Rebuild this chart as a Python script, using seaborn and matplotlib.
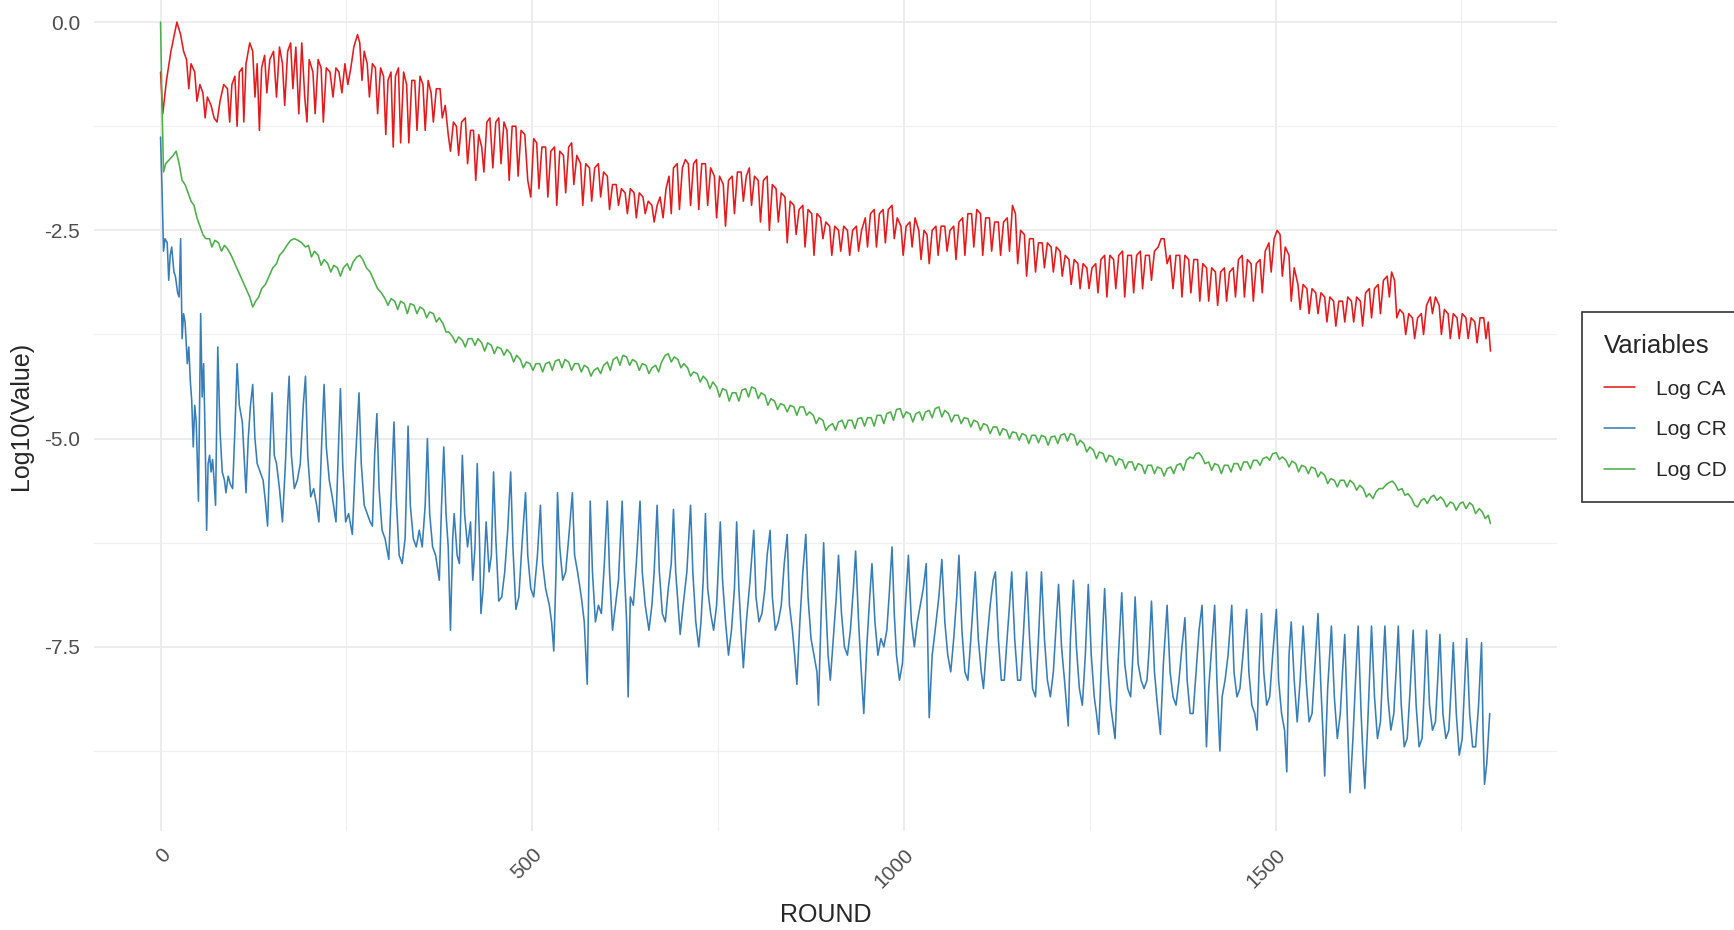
import numpy as np
import pandas as pd
import matplotlib
matplotlib.use("Agg")
import matplotlib.pyplot as plt
import seaborn as sns
from matplotlib.ticker import MultipleLocator

# ---------------- data ----------------
ca_pts = [
 (0,-0.6),(3,-1.1),(8,-0.7),(14,-0.35),(22,0.0),(27,-0.15),(31,-0.35),(35,-0.45),(38,-0.8),(41,-0.5),
 (46,-0.6),(49,-0.95),(53,-0.75),(57,-0.85),(60,-1.15),(63,-0.9),(68,-1.0),(72,-1.15),(76,-1.2),(80,-0.95),
 (85,-0.75),(90,-0.8),(93,-1.2),(96,-0.75),(100,-0.65),(103,-1.25),(106,-0.6),(110,-0.55),(112,-1.2),(115,-0.5),
 (120,-0.25),(124,-0.35),(127,-0.9),(130,-0.5),(133,-1.3),(136,-0.55),(140,-0.4),(143,-0.85),(147,-0.45),(152,-0.35),
 (156,-0.9),(160,-0.3),(164,-0.5),(167,-1.0),(171,-0.35),(175,-0.25),(178,-0.8),(182,-0.3),(186,-1.1),(190,-0.25),
 (194,-0.9),(197,-1.2),(200,-0.45),(205,-0.6),(208,-1.1),(212,-0.45),(216,-0.55),(219,-1.2),(223,-0.55),(228,-0.6),
 (232,-0.9),(236,-0.55),(240,-0.6),(244,-0.85),(248,-0.5),(252,-0.75),(256,-0.55),(260,-0.3),(265,-0.15),(268,-0.25),
 (271,-0.7),(274,-0.35),(278,-0.5),(281,-0.9),(285,-0.5),(289,-0.55),(292,-1.1),(296,-0.55),(300,-0.65),(303,-1.35),
 (306,-0.7),(310,-0.6),(313,-1.5),(316,-0.65),(320,-0.55),(323,-1.45),(327,-0.6),(331,-0.75),(334,-1.45),(338,-0.7),
 (342,-0.7),(345,-1.3),(349,-0.65),(353,-0.75),(356,-1.3),(360,-0.7),(364,-0.85),(367,-1.2),(371,-0.8),(376,-0.8),
 (379,-1.15),(383,-1.0),(387,-1.35),(390,-1.55),(394,-1.2),(398,-1.25),(401,-1.6),(405,-1.2),(410,-1.15),(413,-1.7),
 (417,-1.3),(421,-1.3),(424,-1.9),(428,-1.35),(432,-1.5),(435,-1.8),(439,-1.2),(443,-1.15),(447,-1.75),(451,-1.2),
 (455,-1.15),(458,-1.7),(462,-1.2),(466,-1.3),(469,-1.9),(473,-1.25),(478,-1.25),(481,-1.85),(485,-1.3),(490,-1.35),
 (494,-1.9),(498,-2.1),(502,-1.4),(506,-1.45),(509,-2.0),(513,-1.5),(518,-1.5),(521,-2.1),(525,-1.55),(530,-1.5),
 (533,-2.2),(537,-1.55),(542,-1.6),(545,-2.05),(549,-1.5),(553,-1.45),(556,-1.95),(560,-1.6),(565,-1.7),(568,-2.2),
 (572,-1.7),(577,-1.75),(580,-2.15),(584,-1.75),(589,-1.7),(592,-2.1),(596,-1.8),(601,-1.85),(604,-2.25),(608,-1.95),
 (613,-1.95),(616,-2.2),(620,-2.0),(625,-2.05),(628,-2.3),(632,-2.0),(637,-2.05),(640,-2.35),(644,-2.05),(649,-2.1),
 (652,-2.3),(656,-2.15),(661,-2.2),(664,-2.4),(668,-2.2),(672,-2.1),(676,-2.35),(680,-2.0),(684,-1.85),(687,-2.3),
 (690,-1.75),(695,-1.7),(698,-2.25),(702,-1.75),(706,-1.65),(710,-1.7),(713,-2.2),(717,-1.7),(721,-1.65),(724,-2.25),
 (728,-1.7),(733,-1.7),(736,-2.2),(740,-1.75),(745,-1.85),(748,-2.35),(752,-1.85),(757,-1.95),(760,-2.45),(764,-1.9),
 (769,-1.85),(772,-2.3),(776,-1.8),(781,-1.8),(784,-2.15),(788,-1.85),(792,-1.75),(795,-2.2),(799,-1.85),(804,-1.9),
 (807,-2.4),(811,-1.9),(816,-1.85),(819,-2.5),(823,-1.95),(828,-2.0),(831,-2.4),(835,-2.05),(840,-2.1),(843,-2.65),
 (847,-2.15),(852,-2.2),(855,-2.55),(859,-2.25),(864,-2.2),(867,-2.7),(871,-2.25),(876,-2.3),(879,-2.8),(883,-2.3),
 (888,-2.35),(891,-2.6),(895,-2.4),(900,-2.45),(903,-2.8),(907,-2.45),(912,-2.5),(915,-2.75),(919,-2.45),(924,-2.5),
 (927,-2.8),(931,-2.5),(936,-2.45),(939,-2.75),(943,-2.5),(948,-2.35),(951,-2.7),(955,-2.3),(960,-2.25),(963,-2.7),
 (967,-2.3),(972,-2.25),(975,-2.65),(979,-2.25),(984,-2.2),(987,-2.6),(991,-2.35),(996,-2.45),(999,-2.8),(1003,-2.45),
 (1008,-2.4),(1011,-2.7),(1015,-2.35),(1020,-2.5),(1023,-2.85),(1027,-2.5),(1031,-2.55),(1034,-2.9),(1038,-2.5),(1043,-2.45),
 (1046,-2.8),(1050,-2.45),(1055,-2.45),(1058,-2.75),(1062,-2.5),(1067,-2.45),(1070,-2.85),(1074,-2.4),(1079,-2.35),(1082,-2.8),
 (1086,-2.3),(1091,-2.3),(1094,-2.7),(1098,-2.25),(1103,-2.3),(1106,-2.8),(1110,-2.35),(1115,-2.35),(1118,-2.75),(1122,-2.4),
 (1127,-2.4),(1130,-2.8),(1134,-2.4),(1139,-2.35),(1142,-2.75),(1146,-2.2),(1150,-2.3),(1153,-2.9),(1157,-2.5),(1162,-2.55),
 (1165,-3.05),(1169,-2.6),(1174,-2.6),(1177,-3.0),(1181,-2.65),(1186,-2.65),(1189,-2.95),(1193,-2.65),(1198,-2.7),(1201,-3.0),
 (1205,-2.7),(1210,-2.75),(1213,-3.05),(1217,-2.8),(1222,-2.85),(1225,-3.15),(1229,-2.85),(1234,-2.9),(1237,-3.2),(1241,-2.9),
 (1246,-2.95),(1249,-3.2),(1253,-2.95),(1258,-2.9),(1261,-3.25),(1265,-2.85),(1270,-2.8),(1273,-3.3),(1277,-2.8),(1282,-2.85),
 (1285,-3.2),(1289,-2.8),(1294,-2.75),(1297,-3.3),(1301,-2.8),(1306,-2.8),(1309,-3.25),(1313,-2.8),(1318,-2.75),(1321,-3.2),
 (1325,-2.8),(1330,-2.8),(1333,-3.1),(1337,-2.75),(1342,-2.7),(1346,-2.6),(1350,-2.6),(1354,-2.9),(1358,-2.8),(1362,-3.2),
 (1366,-2.8),(1371,-2.8),(1374,-3.3),(1378,-2.8),(1383,-2.85),(1386,-3.25),(1390,-2.85),(1395,-2.85),(1398,-3.35),(1402,-2.9),
 (1407,-2.95),(1410,-3.35),(1414,-2.95),(1419,-3.0),(1422,-3.4),(1426,-3.0),(1431,-2.95),(1434,-3.35),(1438,-3.0),(1443,-2.95),
 (1446,-3.3),(1450,-2.85),(1455,-2.8),(1458,-3.3),(1462,-2.85),(1467,-2.9),(1470,-3.35),(1474,-2.9),(1479,-2.85),(1482,-3.25),
 (1486,-2.75),(1491,-2.65),(1494,-3.0),(1498,-2.6),(1502,-2.5),(1506,-2.55),(1509,-3.05),(1513,-2.7),(1518,-2.8),(1521,-3.35),
 (1525,-2.95),(1530,-3.15),(1533,-3.45),(1537,-3.15),(1542,-3.2),(1545,-3.5),(1549,-3.2),(1554,-3.25),(1557,-3.5),(1561,-3.25),
 (1566,-3.3),(1569,-3.6),(1573,-3.3),(1578,-3.35),(1581,-3.65),(1585,-3.35),(1590,-3.35),(1593,-3.6),(1597,-3.3),(1602,-3.35),
 (1605,-3.6),(1609,-3.3),(1614,-3.35),(1617,-3.65),(1621,-3.25),(1626,-3.2),(1629,-3.55),(1633,-3.2),(1638,-3.15),(1641,-3.5),
 (1645,-3.1),(1650,-3.05),(1653,-3.3),(1656,-3.0),(1660,-3.1),(1663,-3.55),(1667,-3.45),(1672,-3.5),(1675,-3.75),(1679,-3.5),
 (1684,-3.55),(1687,-3.8),(1691,-3.55),(1696,-3.5),(1699,-3.75),(1703,-3.4),(1708,-3.3),(1711,-3.5),(1715,-3.3),(1720,-3.4),
 (1723,-3.75),(1727,-3.45),(1732,-3.5),(1735,-3.8),(1739,-3.5),(1744,-3.55),(1747,-3.8),(1751,-3.5),(1756,-3.55),(1759,-3.8),
 (1763,-3.55),(1768,-3.6),(1771,-3.85),(1775,-3.55),(1780,-3.55),(1783,-3.8),(1786,-3.6),(1789,-3.95),
]

cd_pts = [
 (0,0.0),(2,-1.0),(4,-1.8),(7,-1.7),(12,-1.65),(17,-1.6),(21,-1.55),(25,-1.7),(29,-1.9),(33,-1.95),
 (37,-2.05),(41,-2.15),(45,-2.2),(49,-2.35),(53,-2.45),(57,-2.55),(61,-2.6),(66,-2.6),(69,-2.7),(73,-2.62),
 (78,-2.65),(82,-2.75),(86,-2.68),(90,-2.72),(95,-2.8),(100,-2.9),(105,-3.0),(110,-3.1),(115,-3.2),(120,-3.3),
 (124,-3.42),(128,-3.35),(132,-3.3),(136,-3.2),(141,-3.15),(146,-3.05),(151,-2.95),(156,-2.9),(160,-2.8),(165,-2.75),
 (170,-2.68),(175,-2.62),(180,-2.6),(185,-2.62),(190,-2.65),(195,-2.7),(199,-2.68),(203,-2.82),(207,-2.75),(212,-2.8),
 (216,-2.92),(220,-2.85),(225,-2.9),(229,-3.0),(233,-2.92),(238,-2.95),(242,-3.05),(246,-2.95),(251,-2.9),(255,-2.98),
 (259,-2.88),(264,-2.82),(268,-2.8),(272,-2.85),(277,-2.95),(282,-3.0),(287,-3.1),(292,-3.2),(297,-3.25),(302,-3.32),
 (306,-3.4),(310,-3.32),(315,-3.35),(319,-3.45),(323,-3.35),(328,-3.38),(332,-3.5),(336,-3.38),(341,-3.4),(345,-3.5),
 (349,-3.42),(354,-3.45),(358,-3.55),(362,-3.48),(367,-3.5),(371,-3.6),(375,-3.55),(380,-3.62),(384,-3.72),(388,-3.72),
 (393,-3.78),(397,-3.85),(401,-3.78),(406,-3.82),(410,-3.9),(414,-3.8),(419,-3.8),(423,-3.88),(427,-3.8),(432,-3.85),
 (436,-3.95),(440,-3.85),(445,-3.88),(449,-3.98),(453,-3.9),(458,-3.92),(462,-4.0),(466,-3.93),(471,-3.98),(475,-4.08),
 (479,-4.0),(484,-4.05),(488,-4.15),(492,-4.08),(497,-4.1),(501,-4.18),(505,-4.1),(510,-4.1),(514,-4.2),(518,-4.1),
 (523,-4.08),(527,-4.18),(531,-4.07),(536,-4.05),(540,-4.15),(544,-4.05),(549,-4.08),(553,-4.18),(557,-4.1),(562,-4.1),
 (566,-4.2),(570,-4.12),(575,-4.15),(579,-4.25),(583,-4.18),(588,-4.15),(592,-4.22),(596,-4.12),(601,-4.08),(605,-4.18),
 (609,-4.05),(614,-4.02),(618,-4.12),(622,-4.0),(627,-4.02),(631,-4.12),(635,-4.05),(640,-4.08),(644,-4.18),(648,-4.1),
 (653,-4.12),(657,-4.22),(661,-4.15),(666,-4.12),(670,-4.2),(674,-4.08),(679,-4.0),(683,-3.98),(687,-4.08),(691,-4.02),
 (696,-4.05),(700,-4.15),(704,-4.1),(709,-4.15),(713,-4.25),(717,-4.2),(722,-4.22),(726,-4.32),(730,-4.25),(735,-4.3),
 (739,-4.4),(743,-4.32),(748,-4.38),(752,-4.5),(756,-4.4),(761,-4.42),(765,-4.55),(769,-4.45),(774,-4.45),(778,-4.55),
 (782,-4.42),(787,-4.4),(791,-4.5),(795,-4.38),(800,-4.4),(804,-4.52),(808,-4.45),(813,-4.48),(817,-4.6),(821,-4.52),
 (826,-4.55),(830,-4.65),(834,-4.58),(839,-4.6),(843,-4.68),(847,-4.6),(852,-4.62),(856,-4.72),(860,-4.62),(865,-4.62),
 (869,-4.72),(873,-4.68),(878,-4.72),(882,-4.82),(886,-4.75),(891,-4.78),(895,-4.9),(899,-4.85),(904,-4.82),(908,-4.9),
 (912,-4.8),(917,-4.78),(921,-4.88),(925,-4.78),(930,-4.78),(934,-4.88),(938,-4.76),(943,-4.75),(947,-4.85),(951,-4.75),
 (956,-4.75),(960,-4.85),(964,-4.72),(969,-4.72),(973,-4.82),(977,-4.7),(982,-4.68),(986,-4.78),(990,-4.65),(995,-4.64),
 (999,-4.75),(1003,-4.68),(1008,-4.7),(1012,-4.8),(1016,-4.7),(1021,-4.68),(1025,-4.78),(1029,-4.68),(1034,-4.66),(1038,-4.75),
 (1042,-4.64),(1047,-4.62),(1051,-4.74),(1055,-4.66),(1060,-4.7),(1064,-4.8),(1068,-4.72),(1073,-4.72),(1077,-4.82),(1081,-4.75),
 (1086,-4.76),(1090,-4.86),(1094,-4.78),(1099,-4.8),(1103,-4.9),(1107,-4.82),(1112,-4.84),(1116,-4.94),(1120,-4.86),(1125,-4.86),
 (1129,-4.96),(1133,-4.88),(1138,-4.9),(1142,-5.0),(1146,-4.92),(1151,-4.93),(1155,-5.02),(1159,-4.94),(1164,-4.96),(1168,-5.06),
 (1172,-4.96),(1177,-4.96),(1181,-5.05),(1185,-4.96),(1190,-4.98),(1194,-5.08),(1198,-4.98),(1203,-4.97),(1207,-5.06),(1211,-4.96),
 (1216,-4.94),(1220,-5.03),(1224,-4.94),(1229,-4.96),(1233,-5.08),(1237,-5.02),(1242,-5.06),(1246,-5.16),(1250,-5.1),(1255,-5.14),
 (1259,-5.24),(1263,-5.16),(1268,-5.18),(1272,-5.28),(1276,-5.2),(1281,-5.22),(1285,-5.32),(1289,-5.24),(1294,-5.26),(1298,-5.36),
 (1302,-5.28),(1307,-5.28),(1311,-5.38),(1315,-5.3),(1320,-5.32),(1324,-5.42),(1328,-5.32),(1333,-5.32),(1337,-5.42),(1341,-5.34),
 (1346,-5.36),(1350,-5.45),(1354,-5.36),(1359,-5.34),(1363,-5.42),(1367,-5.32),(1372,-5.3),(1376,-5.38),(1380,-5.26),(1385,-5.22),
 (1389,-5.24),(1393,-5.18),(1397,-5.17),(1401,-5.22),(1405,-5.3),(1410,-5.28),(1414,-5.38),(1418,-5.3),(1423,-5.32),(1427,-5.42),
 (1431,-5.32),(1436,-5.32),(1440,-5.4),(1444,-5.3),(1449,-5.3),(1453,-5.38),(1457,-5.28),(1462,-5.28),(1466,-5.36),(1470,-5.26),
 (1475,-5.26),(1479,-5.32),(1483,-5.24),(1488,-5.22),(1492,-5.26),(1496,-5.18),(1501,-5.17),(1505,-5.25),(1509,-5.22),(1514,-5.26),
 (1518,-5.34),(1522,-5.27),(1527,-5.3),(1531,-5.4),(1535,-5.32),(1540,-5.34),(1544,-5.42),(1548,-5.34),(1553,-5.36),(1557,-5.46),
 (1561,-5.4),(1566,-5.44),(1570,-5.54),(1574,-5.48),(1579,-5.5),(1583,-5.58),(1587,-5.5),(1592,-5.5),(1596,-5.58),(1600,-5.5),
 (1605,-5.54),(1609,-5.62),(1613,-5.56),(1618,-5.6),(1622,-5.7),(1626,-5.66),(1631,-5.72),(1635,-5.64),(1639,-5.6),(1644,-5.6),
 (1648,-5.56),(1652,-5.53),(1657,-5.51),(1661,-5.55),(1665,-5.62),(1670,-5.6),(1674,-5.68),(1678,-5.66),(1683,-5.72),(1687,-5.8),
 (1691,-5.82),(1696,-5.74),(1700,-5.72),(1704,-5.78),(1709,-5.7),(1713,-5.68),(1717,-5.74),(1722,-5.7),(1726,-5.74),(1730,-5.82),
 (1735,-5.76),(1739,-5.78),(1743,-5.86),(1748,-5.78),(1752,-5.76),(1756,-5.84),(1761,-5.77),(1765,-5.8),(1769,-5.9),(1774,-5.84),
 (1778,-5.88),(1782,-5.96),(1786,-5.92),(1789,-6.02),
]

cr_pts = [
 (0,-1.38),(2,-2.0),(4,-2.75),(6,-2.6),(9,-2.65),(11,-3.1),(13,-2.8),(15,-2.7),(18,-3.0),(20,-3.05),
 (23,-3.25),(25,-3.3),(27,-2.6),(29,-3.8),(31,-3.5),(33,-3.6),(36,-4.1),(38,-3.9),(40,-4.3),(42,-4.55),
 (44,-5.1),(46,-4.6),(48,-4.8),(51,-5.75),(54,-3.5),(56,-4.5),(58,-4.1),(60,-5.0),(62,-6.1),(64,-5.3),
 (66,-5.2),(68,-5.4),(70,-5.25),(72,-5.5),(74,-5.8),(77,-3.9),(80,-4.9),(83,-5.4),(86,-5.5),(88,-5.65),
 (91,-5.45),(94,-5.55),(97,-5.6),(100,-4.9),(103,-4.1),(106,-4.6),(110,-4.8),(113,-5.3),(115,-5.65),(118,-5.0),
 (121,-4.6),(124,-4.35),(127,-5.0),(130,-5.3),(134,-5.4),(138,-5.5),(141,-5.75),(144,-6.05),(147,-5.2),(150,-4.45),
 (153,-5.2),(156,-5.3),(160,-5.6),(164,-6.0),(168,-5.3),(171,-4.6),(173,-4.25),(176,-5.2),(180,-5.6),(184,-5.5),
 (188,-5.3),(192,-4.6),(195,-4.25),(198,-5.2),(202,-5.7),(206,-5.6),(210,-5.8),(213,-6.0),(217,-5.0),(220,-4.35),
 (223,-5.1),(227,-5.5),(231,-5.7),(236,-6.0),(239,-5.2),(242,-4.4),(245,-5.3),(249,-6.0),(253,-5.9),(258,-6.15),
 (262,-5.3),(267,-4.45),(270,-5.3),(274,-5.8),(278,-5.9),(282,-6.0),(285,-6.05),(288,-5.2),(291,-4.7),(294,-5.6),
 (298,-6.1),(302,-6.2),(307,-6.45),(311,-5.5),(314,-4.8),(317,-5.7),(321,-6.4),(325,-6.5),(329,-6.2),(333,-4.85),
 (336,-5.8),(340,-6.2),(344,-6.3),(348,-6.1),(352,-6.3),(356,-5.8),(359,-5.0),(362,-5.9),(366,-6.3),(370,-6.4),
 (375,-6.7),(378,-5.8),(381,-5.1),(384,-5.9),(387,-6.3),(390,-7.3),(393,-6.2),(395,-5.9),(399,-6.4),(402,-6.5),
 (406,-5.2),(409,-5.9),(413,-6.3),(417,-6.0),(420,-6.7),(423,-6.3),(426,-5.3),(429,-6.2),(431,-7.1),(434,-6.8),
 (438,-6.0),(442,-6.6),(445,-6.4),(448,-5.4),(451,-6.2),(455,-6.95),(459,-6.9),(463,-6.6),(467,-6.1),(471,-5.4),
 (474,-6.3),(478,-7.05),(482,-6.9),(486,-6.3),(491,-5.65),(494,-6.4),(498,-6.8),(502,-6.9),(507,-6.4),(511,-5.8),
 (514,-6.5),(518,-6.8),(523,-7.0),(526,-7.2),(529,-7.55),(532,-6.6),(534,-5.65),(537,-6.3),(541,-6.7),(545,-6.6),
 (549,-6.2),(554,-5.65),(557,-6.4),(561,-6.6),(566,-6.9),(570,-7.2),(574,-7.95),(576,-6.8),(578,-5.75),(581,-6.6),
 (585,-7.2),(589,-7.0),(593,-7.1),(597,-6.5),(601,-5.75),(604,-6.6),(608,-7.3),(612,-7.0),(616,-6.7),(621,-5.75),
 (624,-6.6),(627,-7.2),(629,-8.1),(632,-6.9),(636,-7.0),(640,-6.5),(645,-5.75),(648,-6.6),(652,-7.0),(657,-7.3),
 (661,-7.0),(664,-6.6),(668,-5.8),(671,-6.6),(675,-7.1),(679,-7.2),(683,-6.8),(687,-6.5),(690,-5.85),(693,-6.6),
 (697,-7.1),(699,-7.35),(703,-7.0),(708,-6.6),(713,-5.8),(716,-6.6),(720,-7.2),(724,-7.5),(727,-7.2),(730,-6.7),
 (733,-5.9),(736,-6.8),(740,-7.1),(744,-7.3),(748,-7.0),(753,-6.0),(756,-6.7),(760,-7.2),(764,-7.6),(768,-7.3),
 (772,-6.8),(775,-6.0),(778,-6.8),(781,-7.3),(784,-7.75),(788,-7.2),(793,-6.7),(798,-6.1),(801,-6.9),(805,-7.2),
 (809,-7.1),(813,-6.8),(816,-6.4),(820,-6.1),(823,-6.9),(827,-7.3),(831,-7.2),(835,-7.0),(839,-6.5),(843,-6.15),
 (846,-7.0),(850,-7.3),(853,-7.6),(856,-7.95),(860,-7.2),(864,-6.6),(868,-6.15),(871,-6.9),(875,-7.4),(879,-7.6),
 (883,-7.8),(885,-8.2),(889,-7.0),(892,-6.25),(895,-7.0),(898,-7.6),(901,-7.9),(905,-7.4),(909,-6.9),(912,-6.4),
 (916,-7.1),(920,-7.5),(924,-7.6),(928,-7.3),(932,-6.8),(935,-6.35),(939,-7.2),(942,-7.7),(946,-8.3),(950,-7.5),
 (954,-6.9),(957,-6.5),(961,-7.2),(965,-7.6),(969,-7.4),(973,-7.5),(977,-7.3),(980,-6.9),(984,-6.3),(987,-7.1),
 (990,-7.6),(994,-7.9),(998,-7.7),(1002,-7.0),(1006,-6.4),(1010,-7.2),(1014,-7.5),(1018,-7.2),(1022,-7.0),(1026,-6.8),
 (1030,-6.5),(1032,-7.4),(1034,-8.35),(1038,-7.6),(1042,-7.3),(1047,-6.9),(1051,-6.45),(1055,-7.2),(1059,-7.6),(1063,-7.8),
 (1067,-7.4),(1071,-6.9),(1074,-6.4),(1078,-7.3),(1082,-7.8),(1086,-7.9),(1090,-7.4),(1093,-7.0),(1096,-6.6),(1100,-7.4),
 (1104,-7.8),(1107,-8.0),(1111,-7.5),(1116,-7.0),(1120,-6.7),(1123,-6.6),(1127,-7.4),(1131,-7.9),(1135,-7.9),(1138,-7.5),
 (1142,-7.0),(1145,-6.6),(1149,-7.4),(1153,-7.9),(1157,-7.9),(1161,-7.3),(1165,-6.6),(1169,-7.4),(1173,-8.0),(1177,-8.1),
 (1181,-7.4),(1185,-6.6),(1189,-7.4),(1193,-7.9),(1197,-8.1),(1201,-7.8),(1205,-7.2),(1208,-6.75),(1212,-7.5),(1216,-7.9),
 (1221,-8.45),(1224,-7.4),(1228,-6.7),(1232,-7.5),(1236,-8.0),(1240,-8.2),(1244,-7.6),(1248,-6.75),(1252,-7.6),(1256,-8.1),
 (1259,-8.3),(1262,-8.55),(1266,-7.6),(1270,-6.8),(1274,-7.7),(1278,-8.2),(1281,-8.4),(1284,-8.6),(1288,-7.7),(1293,-6.85),
 (1297,-7.7),(1301,-8.0),(1305,-8.1),(1308,-7.6),(1311,-6.9),(1315,-7.7),(1319,-7.9),(1323,-8.0),(1327,-7.9),(1330,-7.5),
 (1333,-6.95),(1337,-7.8),(1341,-8.2),(1345,-8.55),(1349,-7.7),(1354,-7.0),(1358,-7.8),(1362,-8.1),(1366,-8.2),(1370,-7.9),
 (1374,-7.5),(1378,-7.15),(1381,-7.9),(1385,-8.3),(1389,-8.3),(1393,-7.8),(1397,-7.3),(1401,-7.0),(1404,-7.8),(1407,-8.7),
 (1410,-8.0),(1414,-7.5),(1418,-7.0),(1421,-7.9),(1425,-8.75),(1428,-8.1),(1432,-7.9),(1436,-7.6),(1441,-7.0),(1444,-7.8),
 (1448,-8.1),(1452,-8.0),(1456,-7.6),(1461,-7.05),(1464,-7.8),(1468,-8.2),(1472,-8.3),(1475,-8.5),(1478,-7.7),(1481,-7.1),
 (1484,-7.8),(1488,-8.2),(1492,-8.1),(1496,-7.6),(1501,-7.05),(1504,-7.9),(1508,-8.3),(1512,-8.5),(1515,-9.0),(1518,-7.6),
 (1521,-7.2),(1525,-7.9),(1529,-8.4),(1533,-7.9),(1537,-7.25),(1541,-7.9),(1545,-8.4),(1549,-8.3),(1553,-7.7),(1557,-7.1),
 (1561,-8.0),(1564,-8.6),(1566,-9.05),(1570,-8.0),(1575,-7.25),(1579,-8.1),(1583,-8.6),(1587,-8.3),(1590,-7.8),(1593,-7.35),
 (1597,-8.5),(1600,-9.25),(1604,-8.6),(1608,-7.8),(1611,-7.25),(1615,-8.3),(1618,-8.9),(1620,-9.2),(1624,-8.4),(1629,-7.25),
 (1633,-8.1),(1637,-8.6),(1641,-8.4),(1644,-7.8),(1647,-7.25),(1651,-8.1),(1655,-8.5),(1659,-8.3),(1662,-7.8),(1665,-7.25),
 (1669,-8.2),(1673,-8.7),(1677,-8.6),(1681,-8.0),(1685,-7.3),(1689,-8.2),(1693,-8.7),(1697,-8.6),(1700,-8.0),(1703,-7.3),
 (1707,-8.2),(1711,-8.5),(1715,-8.4),(1718,-7.9),(1721,-7.35),(1725,-8.3),(1729,-8.6),(1733,-8.5),(1736,-8.0),(1739,-7.45),
 (1743,-8.3),(1747,-8.8),(1751,-8.6),(1754,-8.0),(1757,-7.4),(1761,-8.3),(1765,-8.7),(1769,-8.7),(1773,-8.2),(1777,-7.45),
 (1779,-8.5),(1781,-9.15),(1784,-8.9),(1786,-8.6),(1788,-8.3),
]

series_names = ["Log CA", "Log CR", "Log CD"]
series_colors = ["#E41A1C", "#377EB8", "#4DAF4A"]
x_ticks = [0, 500, 1000, 1500]
y_ticks = [0.0, -2.5, -5.0, -7.5]

# ---------------- build long table ----------------
frames = []
for name, pts in zip(series_names, [ca_pts, cr_pts, cd_pts]):
    arr = np.array(pts, dtype=float)
    frames.append(pd.DataFrame({"ROUND": arr[:, 0], "value": arr[:, 1], "Variables": name}))
df = pd.concat(frames, ignore_index=True)

# ---------------- plot ----------------
sns.set_theme(style="white")
plt.rcParams["font.family"] = ["Liberation Sans", "DejaVu Sans"]

W, H = 1734, 930
fig = plt.figure(figsize=(W / 100, H / 100), dpi=100)
ax = fig.add_axes([94 / W, 1 - 831 / H, (1557 - 94) / W, 831 / H])

sns.lineplot(data=df, x="ROUND", y="value", hue="Variables",
             hue_order=series_names, palette=dict(zip(series_names, series_colors)),
             estimator=None, sort=False, linewidth=1.15, ax=ax, legend=True)

ax.set_xlim(-89.5, 1878.5)
ax.set_ylim(-9.71, 0.265)
ax.set_xticks(x_ticks)
ax.set_xticklabels([str(t) for t in x_ticks], rotation=45, ha="right", va="top",
                   rotation_mode="anchor", color="#4D4D4D", fontsize=15)
ax.set_yticks(y_ticks)
ax.set_yticklabels([f"{t:.1f}" for t in y_ticks], color="#4D4D4D", fontsize=15)
ax.xaxis.set_minor_locator(MultipleLocator(250))
ax.yaxis.set_minor_locator(MultipleLocator(1.25))
ax.grid(which="major", color="#EBEBEB", linewidth=1.3)
ax.grid(which="minor", color="#F0F0F0", linewidth=0.9)
ax.set_axisbelow(True)
ax.tick_params(which="both", length=0, pad=10)
for s in ax.spines.values():
    s.set_visible(False)

ax.set_xlabel("ROUND", fontsize=18, labelpad=8)
ax.set_ylabel("Log10(Value)", fontsize=18, labelpad=8)

handles, labels = ax.get_legend_handles_labels()
if ax.legend_:
    ax.legend_.remove()
leg = fig.legend(handles, labels, title="Variables", loc="center left",
                 bbox_to_anchor=(1582 / W, 1 - 407 / H), frameon=True, fancybox=False,
                 edgecolor="black", fontsize=15, title_fontsize=18.5,
                 handlelength=1.5, labelspacing=1.05, borderpad=1.05, handletextpad=1.0,
                 borderaxespad=0.0)
leg.get_frame().set_linewidth(1.2)
leg._legend_box.align = "left"

fig.savefig("out.png", dpi=100)
